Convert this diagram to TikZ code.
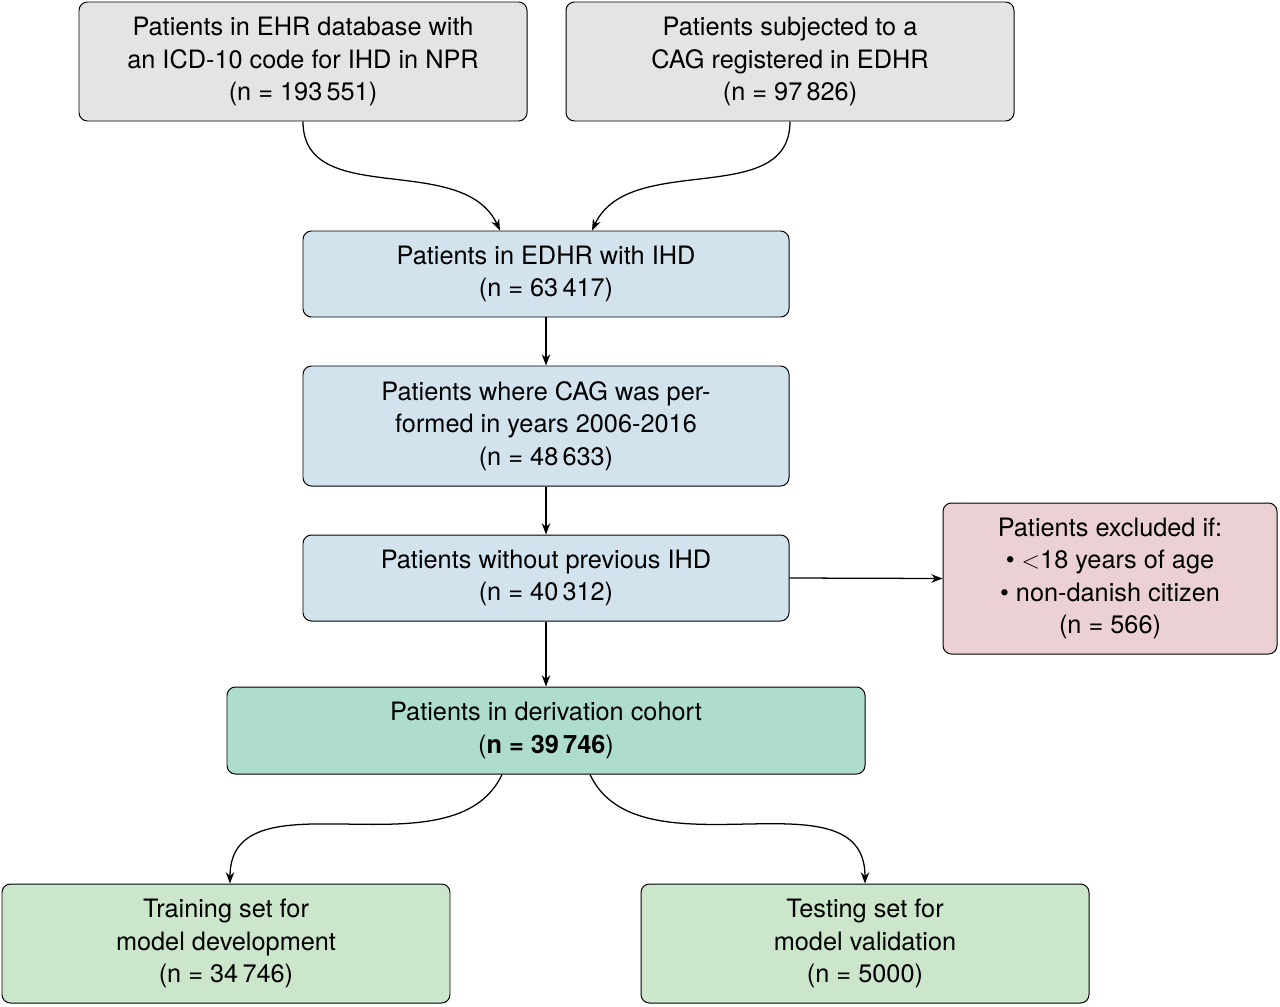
\documentclass[tikz,border=0pt]{standalone}
\usepackage{fontspec}
\setmainfont{TeX Gyre Heros}
\usetikzlibrary{arrows.meta}
\definecolor{cgray}{HTML}{E4E4E4}
\definecolor{cblue}{HTML}{D2E3EE}
\definecolor{cpink}{HTML}{EBD1D4}
\definecolor{cteal}{HTML}{AEDDCF}
\definecolor{cgreen}{HTML}{CBE6CA}
\begin{document}
\begin{tikzpicture}[x=0.025cm,y=-0.025cm,
  box/.style={draw=black,line width=0.7pt,rounded corners=6pt,align=center,inner sep=0pt,
    font=\fontsize{18}{23}\selectfont},
  conn/.style={line width=0.9pt,-{Stealth[length=8pt,width=6pt]}}]
\useasboundingbox (0,0) rectangle (1280,1006);
\node[box,fill=cgray,minimum width=448*0.025cm,minimum height=119*0.025cm] (A) at (303,61.5)
  {Patients in EHR database with\\an ICD-10 code for IHD in NPR\\(n = 193\,551)};
\node[box,fill=cgray,minimum width=448*0.025cm,minimum height=119*0.025cm] (B) at (790,61.5)
  {Patients subjected to a\\CAG registered in EDHR\\(n = 97\,826)};
\node[box,fill=cblue,minimum width=486*0.025cm,minimum height=86*0.025cm] (C) at (546,274)
  {Patients in EDHR with IHD\\(n = 63\,417)};
\node[box,fill=cblue,minimum width=486*0.025cm,minimum height=120*0.025cm] (D) at (546,426)
  {Patients where CAG was per-\\formed in years 2006-2016\\(n = 48\,633)};
\node[box,fill=cblue,minimum width=486*0.025cm,minimum height=86*0.025cm] (E) at (546,578)
  {Patients without previous IHD\\(n = 40\,312)};
\node[box,fill=cpink,minimum width=334*0.025cm,minimum height=151*0.025cm] (F) at (1110,578.5)
  {Patients excluded if:\\\textbullet\ $<$18 years of age\\\textbullet\ non-danish citizen\\(n = 566)};
\node[box,fill=cteal,minimum width=638*0.025cm,minimum height=87*0.025cm] (G) at (546,730.5)
  {Patients in derivation cohort\\(\textbf{n = 39\,746})};
\node[box,fill=cgreen,minimum width=448*0.025cm,minimum height=119*0.025cm] (H) at (226,943.5)
  {Training set for\\model development\\(n = 34\,746)};
\node[box,fill=cgreen,minimum width=448*0.025cm,minimum height=119*0.025cm] (I) at (865,943.5)
  {Testing set for\\model validation\\(n = 5000)};
\draw[conn] (A.south) to[out=-90,in=115] ([xshift=-46*0.025cm]C.north);
\draw[conn] (B.south) to[out=-90,in=65] ([xshift=46*0.025cm]C.north);
\draw[conn] (C) -- (D);
\draw[conn] (D) -- (E);
\draw[conn] (E) -- (G);
\draw[conn] (E.east) -- (F.west);
\draw[conn] ([xshift=-44*0.025cm]G.south) to[out=-115,in=90] ([xshift=4*0.025cm]H.north);
\draw[conn] ([xshift=44*0.025cm]G.south) to[out=-65,in=90] (I.north);
\end{tikzpicture}
\end{document}
